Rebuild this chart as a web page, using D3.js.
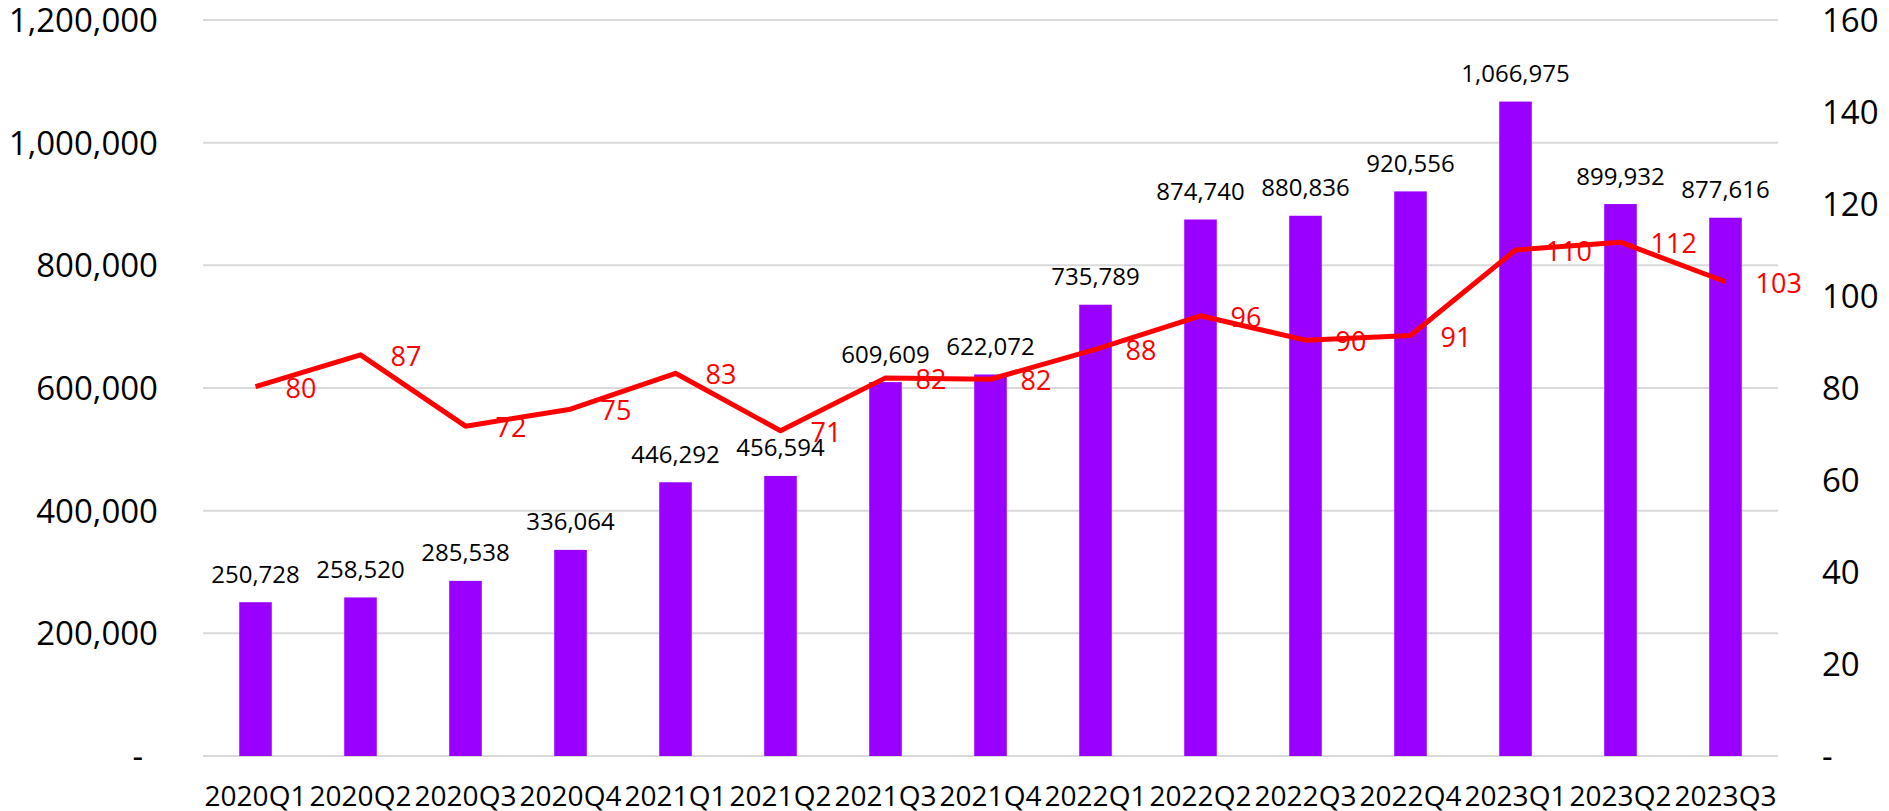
<!DOCTYPE html>
<html>
<head>
<meta charset="utf-8">
<script src="https://cdnjs.cloudflare.com/ajax/libs/d3/7.8.5/d3.min.js"></script>
<style>
  html, body { margin: 0; padding: 0; background: #fff; }
  svg { display: block; }
  text { font-family: "Open Sans", sans-serif; }
</style>
</head>
<body>
<div id="chart"></div>
<script>
(function (d3) {

  var quarters = ['2020Q1', '2020Q2', '2020Q3', '2020Q4', '2021Q1', '2021Q2', '2021Q3', '2021Q4',
    '2022Q1', '2022Q2', '2022Q3', '2022Q4', '2023Q1', '2023Q2', '2023Q3'];

  var volumes = [250728, 258520, 285538, 336064, 446292, 456594, 609609, 622072,
    735789, 874740, 880836, 920556, 1066975, 899932, 877616];

  // right axis series (labels are the rounded values)
  var ratios = [80.3, 87.2, 71.7, 75.4, 83.2, 70.7, 82.2, 81.9,
    88.4, 95.7, 90.4, 91.4, 110.0, 111.7, 103.1];

  var left_ticks = [0, 200000, 400000, 600000, 800000, 1000000, 1200000];
  var right_ticks = [0, 20, 40, 60, 80, 100, 120, 140, 160];

  var WIDTH = 1889;
  var HEIGHT = 811;
  var PLOT_LEFT = 203;
  var PLOT_RIGHT = 1778;
  var PLOT_TOP = 20;
  var PLOT_BOTTOM = 756;

  var BAR_COLOR = '#9900ff';
  var LINE_COLOR = '#ff0000';

  var svg = d3.select('#chart').append('svg')
      .attr('width', WIDTH)
      .attr('height', HEIGHT);

  svg.append('rect')
      .attr('width', WIDTH)
      .attr('height', HEIGHT)
      .attr('fill', '#fff');

  var x = d3.scaleBand()
      .domain(quarters)
      .range([PLOT_LEFT, PLOT_RIGHT])
      .paddingInner(0.69)
      .paddingOuter(0.345);

  var y_left = d3.scaleLinear().domain([0, 1200000]).range([PLOT_BOTTOM, PLOT_TOP]);
  var y_right = d3.scaleLinear().domain([0, 160]).range([PLOT_BOTTOM, PLOT_TOP]);

  var fmt = d3.format(',');

  // gridlines
  svg.append('g').selectAll('line')
      .data(left_ticks)
      .enter().append('line')
      .attr('x1', PLOT_LEFT)
      .attr('x2', PLOT_RIGHT)
      .attr('y1', function (d) { return y_left(d); })
      .attr('y2', function (d) { return y_left(d); })
      .attr('stroke', '#d9d9d9')
      .attr('stroke-width', 2);

  // left axis
  var left_axis = d3.axisLeft(y_left)
      .tickValues(left_ticks)
      .tickSize(0)
      .tickPadding(0)
      .tickFormat(function (d) { return d === 0 ? '-' : fmt(d); });

  var g_left = svg.append('g')
      .attr('transform', 'translate(158,0)')
      .call(left_axis);
  g_left.select('.domain').remove();
  g_left.selectAll('text')
      .attr('font-family', '"Open Sans", sans-serif')
      .attr('font-size', 33)
      .attr('fill', '#000')
      .attr('dy', null)
      .attr('y', 11.5)
      .attr('x', function (d) { return d === 0 ? -15 : 0; });

  // right axis
  var right_axis = d3.axisRight(y_right)
      .tickValues(right_ticks)
      .tickSize(0)
      .tickPadding(0)
      .tickFormat(function (d) { return d === 0 ? '-' : d; });

  var g_right = svg.append('g')
      .attr('transform', 'translate(1822,0)')
      .call(right_axis);
  g_right.select('.domain').remove();
  g_right.selectAll('text')
      .attr('font-family', '"Open Sans", sans-serif')
      .attr('font-size', 33)
      .attr('fill', '#000')
      .attr('dy', null)
      .attr('y', 11.5)
      .attr('x', 0);

  // category axis
  var bottom_axis = d3.axisBottom(x).tickSize(0).tickPadding(0);
  var g_bottom = svg.append('g')
      .attr('transform', 'translate(0,' + PLOT_BOTTOM + ')')
      .call(bottom_axis);
  g_bottom.select('.domain').remove();
  g_bottom.selectAll('text')
      .attr('font-family', '"Open Sans", sans-serif')
      .attr('font-size', 28)
      .attr('fill', '#000')
      .attr('dy', null)
      .attr('y', 50);

  // bars
  svg.append('g').selectAll('rect')
      .data(volumes)
      .enter().append('rect')
      .attr('x', function (d, i) { return x(quarters[i]); })
      .attr('y', function (d) { return y_left(d); })
      .attr('width', x.bandwidth())
      .attr('height', function (d) { return PLOT_BOTTOM - y_left(d); })
      .attr('fill', BAR_COLOR);

  // bar labels
  svg.append('g').selectAll('text')
      .data(volumes)
      .enter().append('text')
      .attr('x', function (d, i) { return x(quarters[i]) + x.bandwidth() / 2; })
      .attr('y', function (d) { return y_left(d) - 19.5; })
      .attr('text-anchor', 'middle')
      .attr('font-size', 24)
      .attr('fill', '#000')
      .text(function (d) { return fmt(d); });

  // line
  var line = d3.line()
      .x(function (d, i) { return x(quarters[i]) + x.bandwidth() / 2; })
      .y(function (d) { return y_right(d); });

  svg.append('path')
      .datum(ratios)
      .attr('d', line)
      .attr('fill', 'none')
      .attr('stroke', LINE_COLOR)
      .attr('stroke-width', 5)
      .attr('stroke-linejoin', 'round');

  // line labels, to the right of each point
  svg.append('g').selectAll('text')
      .data(ratios)
      .enter().append('text')
      .attr('x', function (d, i) { return x(quarters[i]) + x.bandwidth() / 2 + 30; })
      .attr('y', function (d) { return y_right(d) + 11; })
      .attr('font-size', 27)
      .attr('fill', LINE_COLOR)
      .text(function (d) { return Math.round(d); });

})(d3);
</script>
</body>
</html>
